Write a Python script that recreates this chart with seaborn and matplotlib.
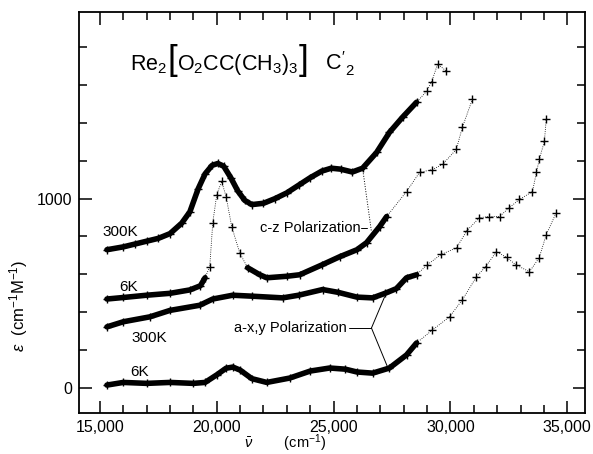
import matplotlib
matplotlib.use("Agg")
import matplotlib.pyplot as plt
import seaborn as sns
import pandas as pd
from matplotlib.ticker import MultipleLocator, FuncFormatter
from matplotlib.offsetbox import TextArea, HPacker, AnnotationBbox

sns.set_style("ticks")
plt.rcParams['font.family'] = ['Liberation Sans', 'DejaVu Sans']
plt.rcParams['mathtext.fontset'] = 'custom'
plt.rcParams['mathtext.rm'] = 'Liberation Sans'
plt.rcParams['mathtext.it'] = 'Liberation Sans:italic'
plt.rcParams['axes.edgecolor'] = 'black'
plt.rcParams['xtick.color'] = 'black'
plt.rcParams['ytick.color'] = 'black'
plt.rcParams['text.color'] = 'black'
plt.rcParams['axes.labelcolor'] = 'black'

# c-z polarization, 300 K
cz300_nu = [15300, 16000, 16500, 17000, 17500, 18000, 18500, 18850, 19200, 19500,
            19800, 20050, 20300, 20600, 20900, 21200, 21500, 22000, 22500, 23000,
            23500, 24000, 24500, 24900, 25300, 25800, 26240, 26840, 27390, 27950,
            28550, 28980, 29190, 29450, 29830]
cz300_eps = [730, 745, 760, 775, 790, 815, 870, 930, 1050, 1130,
             1175, 1185, 1170, 1110, 1040, 990, 968, 975, 1000, 1030,
             1070, 1110, 1145, 1160, 1155, 1140, 1160, 1243, 1349, 1429,
             1508, 1566, 1614, 1709, 1672]

# c-z polarization, 6 K
cz6_nu = [15300, 16000, 17000, 18000, 18850, 19300, 19500, 19700, 19830, 20000,
          20210, 20400, 20640, 20980, 21320, 21840, 22140, 23000, 23550, 24500,
          25260, 26000, 26410, 26970, 27270, 28120, 28680, 29230, 29660, 30250,
          30510, 30940]
cz6_eps = [470, 478, 490, 500, 518, 540, 582, 640, 873, 1020,
           1090, 1010, 852, 714, 635, 598, 582, 590, 598, 650,
           693, 730, 767, 852, 905, 1037, 1138, 1153, 1180, 1259,
           1376, 1524]

# a-x,y polarization, 300 K
axy300_nu = [15300, 16000, 17140, 18000, 19270, 19830, 20680, 21500, 22820, 23500,
             24530, 25200, 26000, 26670, 27200, 27690, 28120, 28550, 29000, 29600,
             30260, 30700, 31240, 31670, 32100, 32500, 32950, 33510, 33680, 33800,
             34020, 34100]
axy300_eps = [323, 350, 376, 410, 437, 470, 490, 485, 476, 490,
              520, 505, 480, 476, 500, 525, 582, 598, 650, 705,
              740, 830, 899, 905, 905, 950, 995, 1037, 1138, 1206,
              1302, 1420]

# a-x,y polarization, 6 K
axy6_nu = [15300, 16000, 17000, 18000, 19000, 19500, 20000, 20400, 20690, 21000,
           21500, 22140, 23120, 24000, 24830, 25500, 26000, 26670, 27390, 28120,
           28550, 29230, 29960, 30510, 31110, 31500, 31970, 32400, 32800, 33380,
           33800, 34100, 34530]
axy6_eps = [16, 30, 25, 30, 25, 30, 70, 105, 111, 95,
            50, 30, 53, 90, 106, 100, 85, 79, 106, 175,
            238, 307, 376, 466, 587, 640, 720, 690, 650, 614,
            688, 810, 926]

curves = [
    (cz300_nu, cz300_eps, [(15300, 28550)]),
    (cz6_nu, cz6_eps, [(15300, 19500), (21320, 27270)]),
    (axy300_nu, axy300_eps, [(15300, 28550)]),
    (axy6_nu, axy6_eps, [(15300, 28550)]),
]

fig = plt.figure(figsize=(5.93, 4.54), dpi=100)
ax = fig.add_axes([0.133, 0.090, 0.854, 0.884])

for nu, eps, dense in curves:
    df = pd.DataFrame({'nu': nu, 'eps': eps})
    # sparse scan points: faint trace with small crosses
    sns.lineplot(data=df, x='nu', y='eps', ax=ax, color='black', lw=0.6,
                 sort=False, estimator=None, ls=':')
    sns.scatterplot(data=df, x='nu', y='eps', ax=ax, color='black',
                    marker='+', s=28, linewidth=1.0)
    # densely sampled part: heavy trace
    for lo, hi in dense:
        seg = df[(df['nu'] >= lo) & (df['nu'] <= hi)]
        sns.lineplot(data=seg, x='nu', y='eps', ax=ax, color='black', lw=4.0,
                     sort=False, estimator=None, solid_capstyle='round')

ax.set_xlim(14100, 35770)
ax.set_ylim(-132, 1985)

ax.xaxis.set_major_locator(MultipleLocator(5000))
ax.xaxis.set_minor_locator(MultipleLocator(1000))
ax.xaxis.set_major_formatter(FuncFormatter(lambda v, p: f"{int(v):,}"))
ax.yaxis.set_major_locator(MultipleLocator(1000))
ax.yaxis.set_minor_locator(MultipleLocator(200))
ax.tick_params(which='both', direction='in', top=True, right=True,
               width=1.1, labelsize=11.5)
ax.tick_params(which='major', length=9)
ax.tick_params(which='minor', length=5.5)
ax.tick_params(axis='x', pad=5)
ax.tick_params(axis='y', pad=5)
for s in ax.spines.values():
    s.set_linewidth(1.3)

ax.set_xlabel(r'$\bar{\nu}$        (cm$^{-1}$)', fontsize=10.5)
ax.xaxis.set_label_coords(0.407, -0.047)
ax.set_ylabel(r'$\epsilon$  (cm$^{-1}$M$^{-1}$)', fontsize=12)
ax.yaxis.set_label_coords(-0.097, 0.267)

# compound formula with tall brackets
parts = [
    TextArea('Re$_2$', textprops=dict(size=15.5)),
    TextArea('[', textprops=dict(size=25)),
    TextArea('O$_2$CC(CH$_3$)$_3$', textprops=dict(size=15.5)),
    TextArea(']', textprops=dict(size=25)),
    TextArea('   C$^{\\prime}_{\\ 2}$', textprops=dict(size=15.5)),
]
formula = HPacker(children=parts, align='baseline', pad=0, sep=0)
ax.add_artist(AnnotationBbox(formula, (16280, 1725), frameon=False,
                             box_alignment=(0, 0.5), pad=0))

ax.text(15090, 825, '300K', fontsize=11, va='center', ha='left')
ax.text(15810, 534, '6K', fontsize=11, va='center', ha='left')
ax.text(16370, 265, '300K', fontsize=11, va='center', ha='left')
ax.text(16280, 85, '6K', fontsize=11, va='center', ha='left')

ax.text(26150, 847, 'c-z Polarization', fontsize=10.5, va='center', ha='right')
ax.plot([26170, 26450], [847, 847], color='black', lw=0.7)
ax.plot([26240, 26620], [1160, 825], color='black', lw=0.7, ls=':')

ax.text(25560, 317, 'a-x,y Polarization', fontsize=10.5, va='center', ha='right')
ax.plot([25640, 26620], [317, 317], color='black', lw=0.7)
ax.plot([26620, 27180], [317, 481], color='black', lw=0.7)
ax.plot([26620, 27310], [317, 111], color='black', lw=0.7)

fig.savefig('out.png', dpi=100)
